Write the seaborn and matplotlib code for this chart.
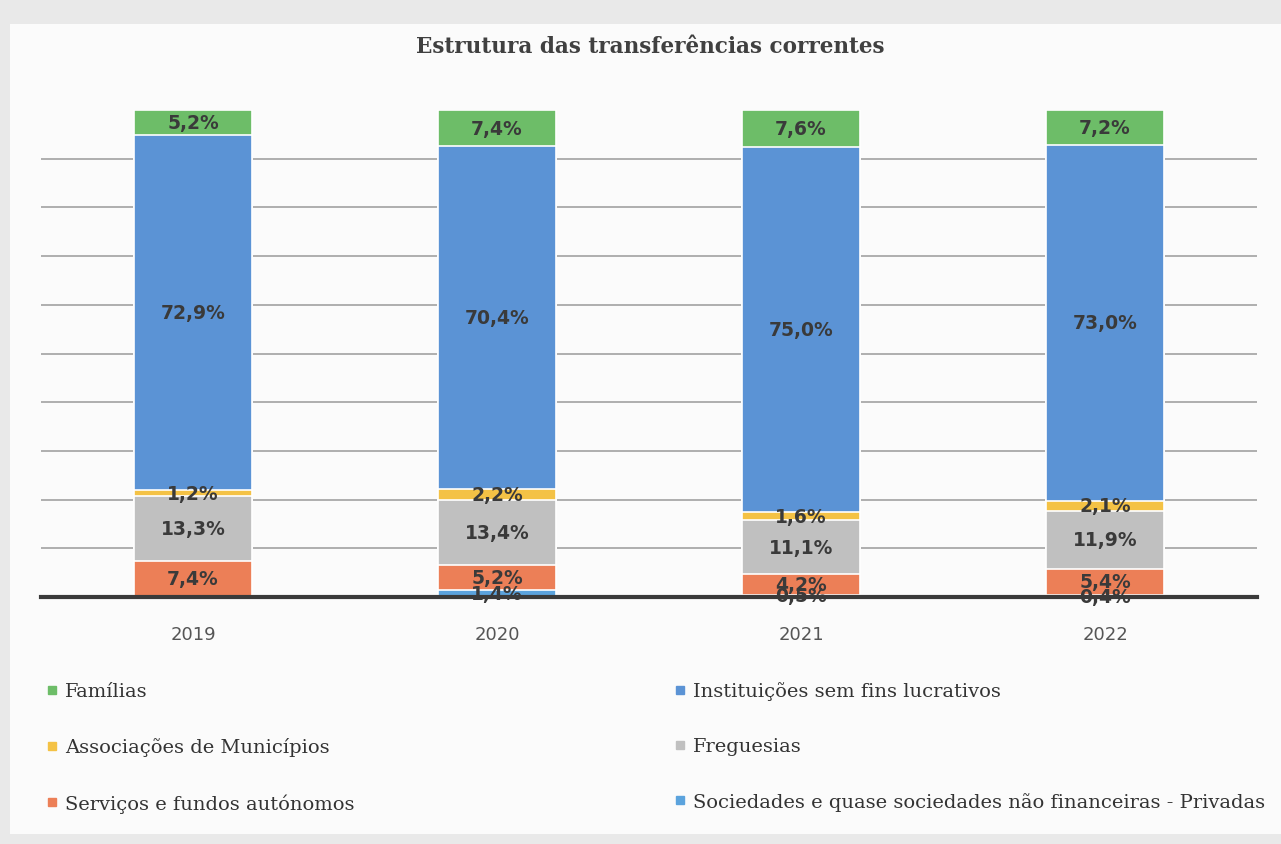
import matplotlib
matplotlib.use("Agg")
import matplotlib.pyplot as plt
import seaborn as sns
import numpy as np
import pandas as pd
from matplotlib.lines import Line2D
from matplotlib.patches import Rectangle

# ---- data ----
years = ["2019", "2020", "2021", "2022"]
sociedades = [0.0, 1.4, 0.5, 0.4]
servicos = [7.4, 5.2, 4.2, 5.4]
freguesias = [13.3, 13.4, 11.1, 11.9]
associacoes = [1.2, 2.2, 1.6, 2.1]
instituicoes = [72.9, 70.4, 75.0, 73.0]
familias = [5.2, 7.4, 7.6, 7.2]

series_names = ["Sociedades e quase sociedades não financeiras - Privadas",
                "Serviços e fundos autónomos", "Freguesias",
                "Associações de Municípios", "Instituições sem fins lucrativos",
                "Famílias"]
series_vals = [sociedades, servicos, freguesias, associacoes, instituicoes, familias]
colors = ["#5ba3dd", "#ec7f57", "#c0c0c0", "#f4c245", "#5b93d5", "#6dbd68"]

sns.set_theme(style="white")
W, H = 1281, 845
fig = plt.figure(figsize=(W / 100, H / 100), dpi=100)
fig.patch.set_facecolor("#e9e9e9")
fig.patches.append(Rectangle((10 / W, 10 / H), (W - 10) / W, (H - 35) / H,
                             transform=fig.transFigure, facecolor="#fbfbfb",
                             edgecolor="none", zorder=-5))

ax = fig.add_axes([41 / W, (H - 598) / H, (1257 - 41) / W, (598 - 111) / H])
ax.set_facecolor("none")
ax.set_zorder(2)

# cumulative stacking (draw tallest first)
vals = np.array(series_vals)
cum = np.cumsum(vals, axis=0)
for i in range(len(series_names) - 1, -1, -1):
    df = pd.DataFrame({"year": years, "v": cum[i]})
    sns.barplot(data=df, x="year", y="v", color=colors[i], width=0.39,
                saturation=1, edgecolor="white", linewidth=1.2, ax=ax, zorder=3)

# labels
for i in range(len(series_names)):
    for j in range(len(years)):
        v = vals[i, j]
        if v <= 0:
            continue
        y = cum[i, j] - v / 2
        ax.text(j, y, f"{v:.1f}%".replace(".", ","), ha="center", va="center",
                fontsize=13.5, fontweight="bold", color="#3a3a3a",
                family=["Liberation Sans Narrow", "DejaVu Sans"], zorder=5)

ax.set_ylim(0, 100)
ax.set_xlim(-0.5, 3.5)
ax.set_yticks(np.arange(10, 100, 10))
ax.yaxis.grid(True, color="#a8a8a8", linewidth=1.3, zorder=0)
ax.set_axisbelow(True)
ax.tick_params(axis="y", left=False, labelleft=False)
ax.tick_params(axis="x", bottom=False, pad=14)
for lab in ax.get_xticklabels():
    lab.set_fontsize(13)
    lab.set_color("#555555")
ax.set_xlabel("")
ax.set_ylabel("")
for s in ["top", "right", "left"]:
    ax.spines[s].set_visible(False)
ax.spines["bottom"].set_color("#3a3a3a")
ax.spines["bottom"].set_linewidth(3)
ax.spines["bottom"].set_zorder(6)

fig.text(650 / W, 1 - 47 / H, "Estrutura das transferências correntes",
         ha="center", va="center", fontsize=15.5, fontweight="bold",
         color="#404040", family="DejaVu Serif")

# legend
order = [5, 3, 1, 4, 2, 0]
handles = [Line2D([], [], marker="s", linestyle="none", markersize=6,
                  markerfacecolor=colors[k], markeredgecolor=colors[k]) for k in order]
labels = [series_names[k] for k in order]
leg = fig.legend(handles, labels, ncol=2, loc="upper left",
                 bbox_to_anchor=(30 / W, 1 - 665 / H), frameon=False,
                 prop={"family": "DejaVu Serif", "size": 14},
                 handlelength=0.5, handletextpad=0.4, columnspacing=16.5,
                 labelspacing=1.9)
for t in leg.get_texts():
    t.set_color("#333333")

fig.savefig("out.png", dpi=100, facecolor=fig.get_facecolor())
